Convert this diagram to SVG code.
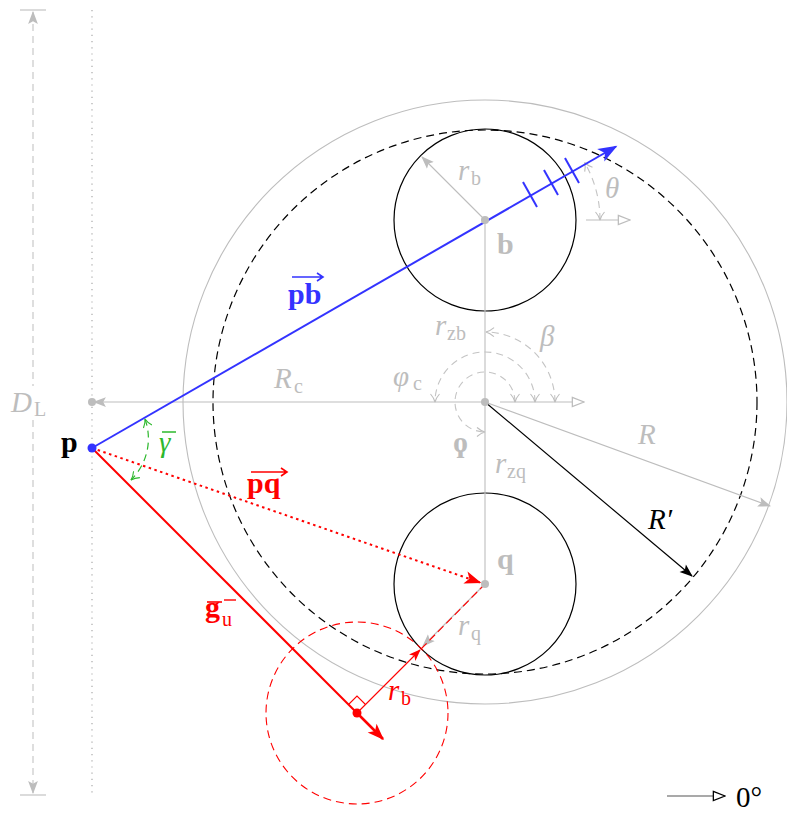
<svg xmlns="http://www.w3.org/2000/svg" width="787" height="813" viewBox="0 0 787 813">
<style>
text{font-family:"Liberation Serif","DejaVu Serif",serif}
.m{font-family:"Liberation Serif","DejaVu Serif",serif;font-style:italic;font-size:29px}
.s{font-family:"Liberation Serif","DejaVu Serif",serif;font-size:20px}
.bd{font-family:"Liberation Serif","DejaVu Serif",serif;font-weight:bold;font-size:30px}
.g{fill:#bdbdbd}
.gl{stroke:#bdbdbd;stroke-width:1.1;fill:none}
.gd{stroke:#c4c4c4;stroke-width:1.1;fill:none;stroke-dasharray:7,5}
.blk{stroke:#000;stroke-width:1.2;fill:none}
</style>
<defs>
<marker id="ag" viewBox="0 0 12 10" refX="11" refY="5" markerWidth="13" markerHeight="11" markerUnits="userSpaceOnUse" orient="auto-start-reverse"><path d="M0,0.5 L12,5 L0,9.5 L2.5,5 Z" fill="#bdbdbd"/></marker>
<marker id="ao" viewBox="0 0 12 10" refX="11" refY="5" markerWidth="14" markerHeight="12" markerUnits="userSpaceOnUse" orient="auto"><path d="M1,1 L11,5 L1,9 Z" fill="#fff" stroke="#bdbdbd" stroke-width="1.1"/></marker>
<marker id="aob" viewBox="0 0 12 10" refX="11" refY="5" markerWidth="14" markerHeight="12" markerUnits="userSpaceOnUse" orient="auto"><path d="M1,1 L11,5 L1,9 Z" fill="#fff" stroke="#000" stroke-width="1.1"/></marker>
<marker id="cg" viewBox="0 0 10 10" refX="9" refY="5" markerWidth="10" markerHeight="10" markerUnits="userSpaceOnUse" orient="auto-start-reverse"><path d="M1,0.5 Q5,4 9,5 Q5,6 1,9.5" fill="none" stroke="#bdbdbd" stroke-width="1.1"/></marker>
<marker id="cgr" viewBox="0 0 10 10" refX="9" refY="5" markerWidth="10" markerHeight="10" markerUnits="userSpaceOnUse" orient="auto-start-reverse"><path d="M1,0.5 Q5,4 9,5 Q5,6 1,9.5" fill="none" stroke="#2db82d" stroke-width="1.1"/></marker>
<marker id="ab" viewBox="0 0 12 10" refX="11" refY="5" markerWidth="14" markerHeight="11" markerUnits="userSpaceOnUse" orient="auto"><path d="M0,0.5 L12,5 L0,9.5 L2.5,5 Z" fill="#000"/></marker>
<marker id="abl" viewBox="0 0 12 10" refX="11" refY="5" markerWidth="20" markerHeight="16" markerUnits="userSpaceOnUse" orient="auto"><path d="M0,0.5 L12,5 L0,9.5 L3,5 Z" fill="#3333ff"/></marker>
<marker id="ar" viewBox="0 0 12 10" refX="11" refY="5" markerWidth="18" markerHeight="14" markerUnits="userSpaceOnUse" orient="auto"><path d="M0,0.5 L12,5 L0,9.5 L3,5 Z" fill="#ff0000"/></marker>
<marker id="ars" viewBox="0 0 12 10" refX="11" refY="5" markerWidth="13" markerHeight="10" markerUnits="userSpaceOnUse" orient="auto"><path d="M0,0.5 L12,5 L0,9.5 L3,5 Z" fill="#ff0000"/></marker>
</defs>

<g id="outer-circle"><circle cx="485" cy="402" r="302" class="gl"/></g>
<g id="rprime-circle"><circle cx="485" cy="402" r="272" fill="none" stroke="#000" stroke-width="1.2" stroke-dasharray="8,5"/></g>
<g id="circle-b"><circle cx="485" cy="220" r="91" class="blk"/></g>
<g id="circle-q"><circle cx="485" cy="584" r="91" class="blk"/></g>
<g id="circle-red"><circle cx="357" cy="713" r="91" fill="none" stroke="#ff0000" stroke-width="1.1" stroke-dasharray="8,5"/></g>

<g id="connectors">
  <line x1="33" y1="12" x2="33" y2="793" class="gd" stroke-dasharray="10,6" marker-start="url(#ag)" marker-end="url(#ag)"/>
  <line x1="20" y1="10" x2="46" y2="10" class="gl"/>
  <line x1="20" y1="795" x2="46" y2="795" class="gl"/>
  <line x1="92" y1="10" x2="92" y2="795" stroke="#aaa" stroke-width="1.2" stroke-dasharray="1.2,5"/>
  <line x1="485" y1="220" x2="485" y2="584" class="gl"/>
  <line x1="485" y1="402" x2="94" y2="402" class="gl" marker-end="url(#ag)"/>
  <line x1="500" y1="402" x2="584" y2="402" class="gl" marker-end="url(#ao)"/>
  <path d="M515,402 A30,30 0 1 0 485,432" class="gd" stroke-dasharray="6,4" marker-start="url(#cg)" marker-end="url(#cg)"/>
  <path d="M535,402 A50,50 0 0 0 435,402" class="gd" stroke-dasharray="7,5" marker-start="url(#cg)" marker-end="url(#cg)"/>
  <path d="M555,402 A70,70 0 0 0 486,332" class="gd" stroke-dasharray="7,5" marker-start="url(#cg)" marker-end="url(#cg)"/>
  <line x1="485" y1="402" x2="770" y2="506" class="gl" marker-end="url(#ag)"/>
  <line x1="485" y1="402" x2="692" y2="576" stroke="#000" stroke-width="1.2" marker-end="url(#ab)"/>
  <line x1="485" y1="220" x2="422" y2="157" class="gl" marker-end="url(#ag)"/>
  <line x1="586" y1="220" x2="630" y2="220" class="gl" marker-end="url(#ao)"/>
  <path d="M600,220 A115,115 0 0 0 584.6,162.5" class="gd" stroke-dasharray="7,5" marker-start="url(#cg)" marker-end="url(#cg)"/>
  <line x1="485" y1="584" x2="423" y2="646" class="gl" marker-end="url(#ag)"/>
  <line x1="421" y1="649" x2="485" y2="584" stroke="#ff0000" stroke-width="1.1" stroke-dasharray="8,4"/>
  <line x1="92" y1="448" x2="616" y2="146.5" stroke="#3333ff" stroke-width="2" marker-end="url(#abl)"/>
  <g stroke="#3333ff" stroke-width="2">
    <line x1="523" y1="182" x2="537" y2="207"/>
    <line x1="544" y1="170" x2="558" y2="195"/>
    <line x1="565" y1="158" x2="579" y2="183"/>
  </g>
  <line x1="92" y1="448" x2="480" y2="582.5" stroke="#ff0000" stroke-width="2" stroke-dasharray="2.5,3.5" marker-end="url(#ar)"/>
  <line x1="92" y1="448" x2="357" y2="713" stroke="#ff0000" stroke-width="2"/>
  <line x1="357" y1="713" x2="383" y2="739" stroke="#ff0000" stroke-width="2.5" marker-end="url(#ar)"/>
  <line x1="357" y1="713" x2="420" y2="650" stroke="#ff0000" stroke-width="1.1" marker-end="url(#ars)"/>
  <polyline points="348.5,704.5 357,696 365.5,704.5" fill="none" stroke="#ff0000" stroke-width="1.1"/>
  <path d="M145,419 A58,58 0 0 1 131,480" fill="none" stroke="#2db82d" stroke-width="1.2" stroke-dasharray="7,5" marker-start="url(#cgr)" marker-end="url(#cgr)"/>
  <line x1="667" y1="796" x2="725" y2="796" stroke="#555" stroke-width="1.2" marker-end="url(#aob)"/>
</g>

<g id="point-p"><circle cx="92" cy="448" r="4.5" fill="#3333ff"/><text x="61" y="452" class="bd" fill="#000">p</text></g>
<g id="point-pc"><circle cx="92" cy="402" r="4" fill="#bdbdbd"/></g>
<g id="point-c"><circle cx="485" cy="402" r="4" fill="#bdbdbd"/></g>
<g id="point-b"><circle cx="485" cy="220" r="4" fill="#bdbdbd"/><text x="497" y="254" class="bd g">b</text></g>
<g id="point-q"><circle cx="485" cy="584" r="4" fill="#bdbdbd"/><text x="497" y="569" class="bd g">q</text></g>
<g id="point-red"><circle cx="357" cy="713" r="4.5" fill="#ff0000"/></g>

<g id="labels">
  <rect x="10" y="386" width="44" height="34" fill="#fff"/>
  <text x="11" y="412" class="m g">D</text><text x="34" y="416" class="s g">L</text>
  <text x="274" y="388" class="m g">R</text><text x="294" y="393" class="s g">c</text>
  <text x="393" y="386" class="m g">φ</text><text x="413" y="390" class="s g">c</text>
  <text x="435" y="335" class="m g">r</text><text x="447" y="340" class="s g">zb</text>
  <text x="540" y="346" class="m g">β</text>
  <text x="453" y="452" font-family="DejaVu Serif" font-size="30" font-weight="bold" class="g">ϙ</text>
  <text x="495" y="473" class="m g">r</text><text x="507" y="478" class="s g">zq</text>
  <text x="458" y="180" class="m g">r</text><text x="471" y="185" class="s g">b</text>
  <text x="605" y="198" class="m g">θ</text>
  <text x="638" y="444" class="m g">R</text>
  <text x="648" y="529" class="m" fill="#000">R′</text>
  <text x="458" y="635" class="m g">r</text><text x="471" y="640" class="s g">q</text>
  <text x="388" y="700" class="m" fill="#ff0000">r</text><text x="401" y="705" class="s" fill="#ff0000">b</text>
  <text x="288" y="304" class="bd" font-size="30" fill="#3333ff">pb</text>
  <path d="M292,277 H322 M317,273 L323,277 L317,281" fill="none" stroke="#3333ff" stroke-width="1.6"/>
  <text x="247" y="493" class="bd" font-size="30" fill="#ff0000">pq</text>
  <path d="M251,472 H286 M281,468 L287,472 L281,476" fill="none" stroke="#ff0000" stroke-width="1.6"/>
  <text x="205" y="617" class="bd" font-size="30" fill="#ff0000">g</text>
  <line x1="207" y1="602" x2="222" y2="602" stroke="#ff0000" stroke-width="1.6"/>
  <text x="222" y="626" class="s" fill="#ff0000">u</text>
  <line x1="224" y1="600" x2="236" y2="600" stroke="#ff0000" stroke-width="1.4"/>
  <text x="159" y="452" class="m" font-size="31" fill="#2db82d">γ</text>
  <line x1="162" y1="432" x2="176" y2="432" stroke="#2db82d" stroke-width="1.5"/>
  <text x="736" y="807" font-size="29" fill="#000">0°</text>
</g>
</svg>
